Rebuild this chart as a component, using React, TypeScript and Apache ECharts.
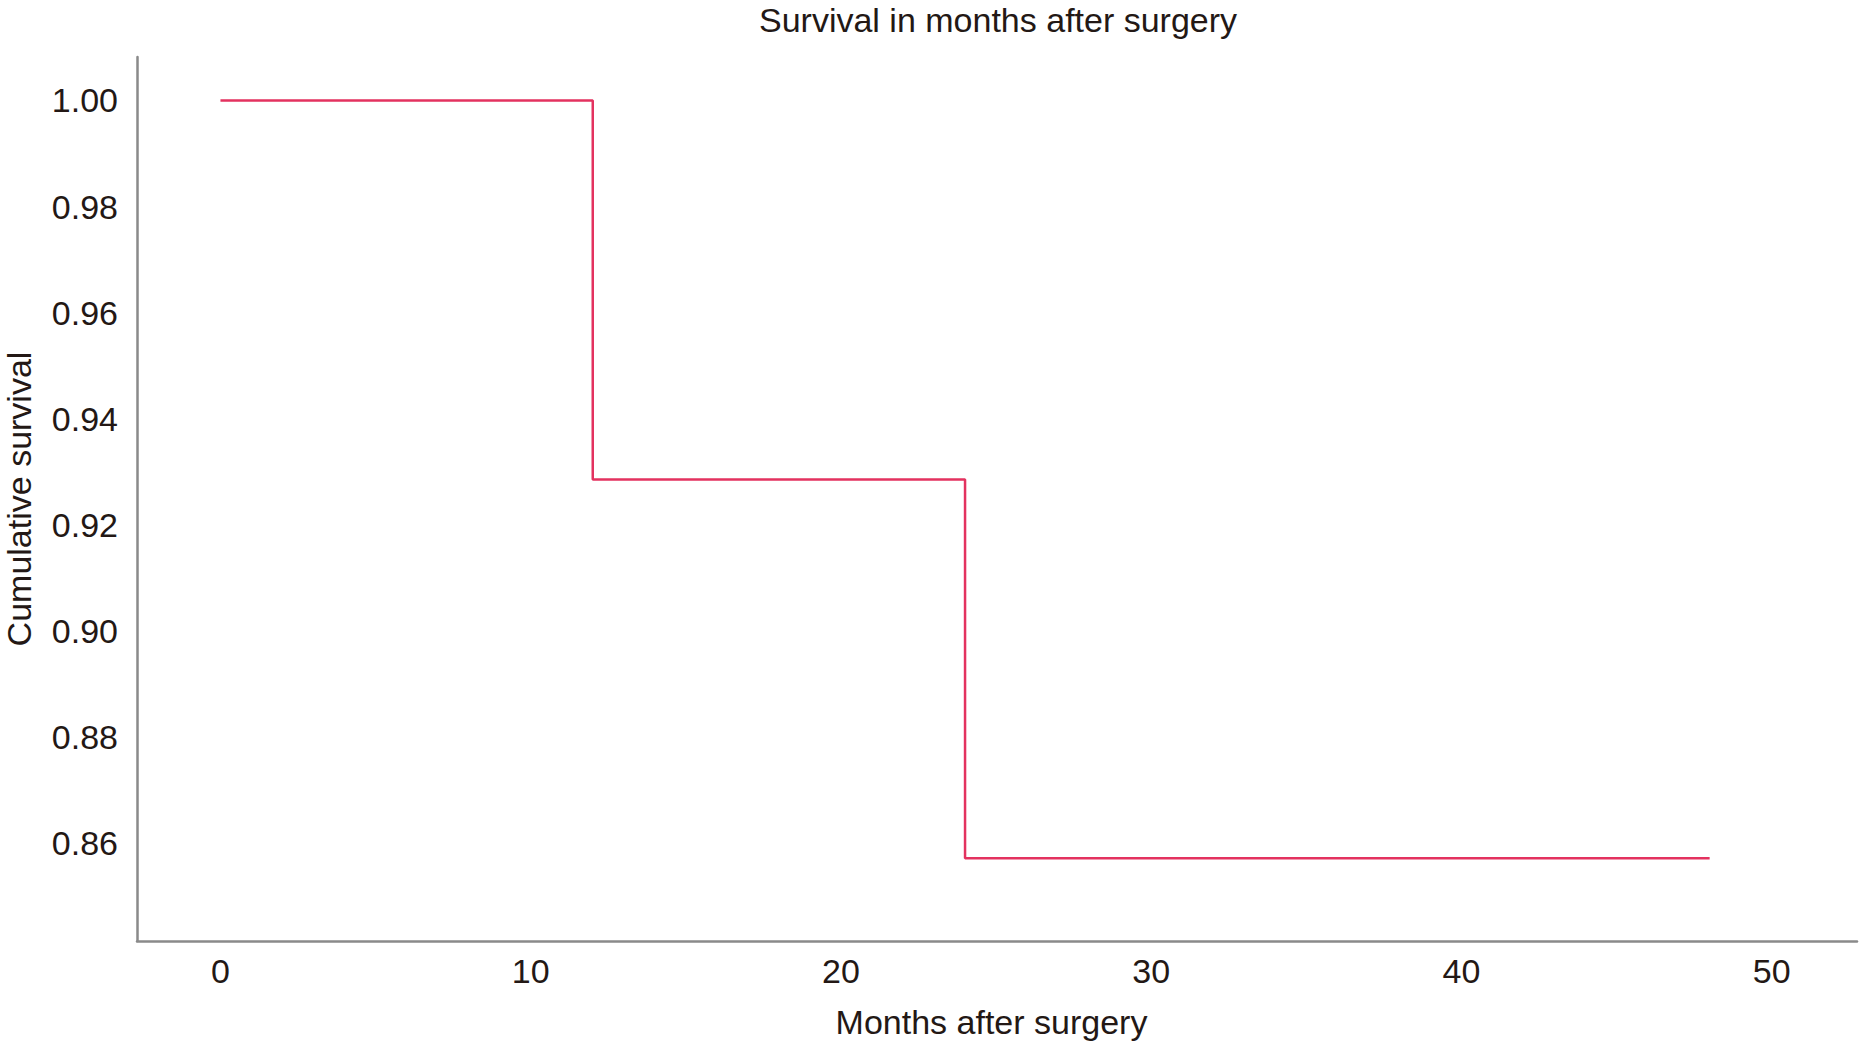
import React, { useEffect, useRef } from "react";
import * as echarts from "echarts";

const titleText = "Survival in months after surgery";
const xAxisTitle = "Months after surgery";
const yAxisTitle = "Cumulative survival";
const months = [0, 12, 12, 24, 24, 48];
const survival = [1.0, 1.0, 0.928571, 0.928571, 0.857143, 0.857143];
const xTicks = [0, 10, 20, 30, 40, 50];
const yTicks = [0.86, 0.88, 0.9, 0.92, 0.94, 0.96, 0.98, 1.0];

const FONT = "'Liberation Sans', Arial, sans-serif";
const TEXT = "#231815";

export default function App() {
  const ref = useRef<HTMLDivElement>(null);
  useEffect(() => {
    if (!ref.current) return;
    const chart = echarts.init(ref.current, undefined, { renderer: "svg" });
    const data = months.map((m, i) => [m, survival[i]]);
    chart.setOption({
      animation: false,
      backgroundColor: "#ffffff",
      title: {
        text: titleText,
        left: 759,
        top: 2,
        padding: 0,
        textStyle: { fontFamily: FONT, fontSize: 34, lineHeight: 36, fontWeight: "normal", color: TEXT },
      },
      grid: {
        left: 137,
        right: 7,
        top: 57,
        bottom: 106,
        containLabel: false,
        outerBoundsMode: "none",
      },
      xAxis: {
        type: "value",
        min: -2.69,
        max: 52.75,
        name: xAxisTitle,
        nameLocation: "middle",
        nameGap: 64,
        nameTextStyle: { fontFamily: FONT, fontSize: 34, color: TEXT, padding: [0, 11, 0, 0] },
        axisLine: { show: true, onZero: false, lineStyle: { color: "#8a8a8a", width: 2.5 } },
        axisTick: { show: false },
        splitLine: { show: false },
        axisLabel: {
          customValues: xTicks,
          formatter: (v: number) => String(v),
          fontFamily: FONT,
          fontSize: 34,
          color: TEXT,
          margin: 13,
        },
      },
      yAxis: {
        type: "value",
        min: 0.84155,
        max: 1.0082,
        name: yAxisTitle,
        nameLocation: "middle",
        nameGap: 101,
        nameRotate: 90,
        nameTextStyle: { fontFamily: FONT, fontSize: 34, color: TEXT },
        axisLine: { show: true, onZero: false, lineStyle: { color: "#8a8a8a", width: 2.5 } },
        axisTick: { show: false },
        splitLine: { show: false },
        axisLabel: {
          customValues: yTicks,
          formatter: (v: number) => v.toFixed(2),
          fontFamily: FONT,
          fontSize: 34,
          color: TEXT,
          margin: 19,
        },
      },
      series: [
        {
          type: "line",
          data,
          showSymbol: false,
          symbol: "none",
          lineStyle: { color: "#e3325f", width: 2.5 },
          silent: true,
        },
      ],
    });
    return () => chart.dispose();
  }, []);
  return (
    <div
      ref={ref}
      style={{ position: "absolute", left: 0, top: 0, width: 1864, height: 1047 }}
    />
  );
}
